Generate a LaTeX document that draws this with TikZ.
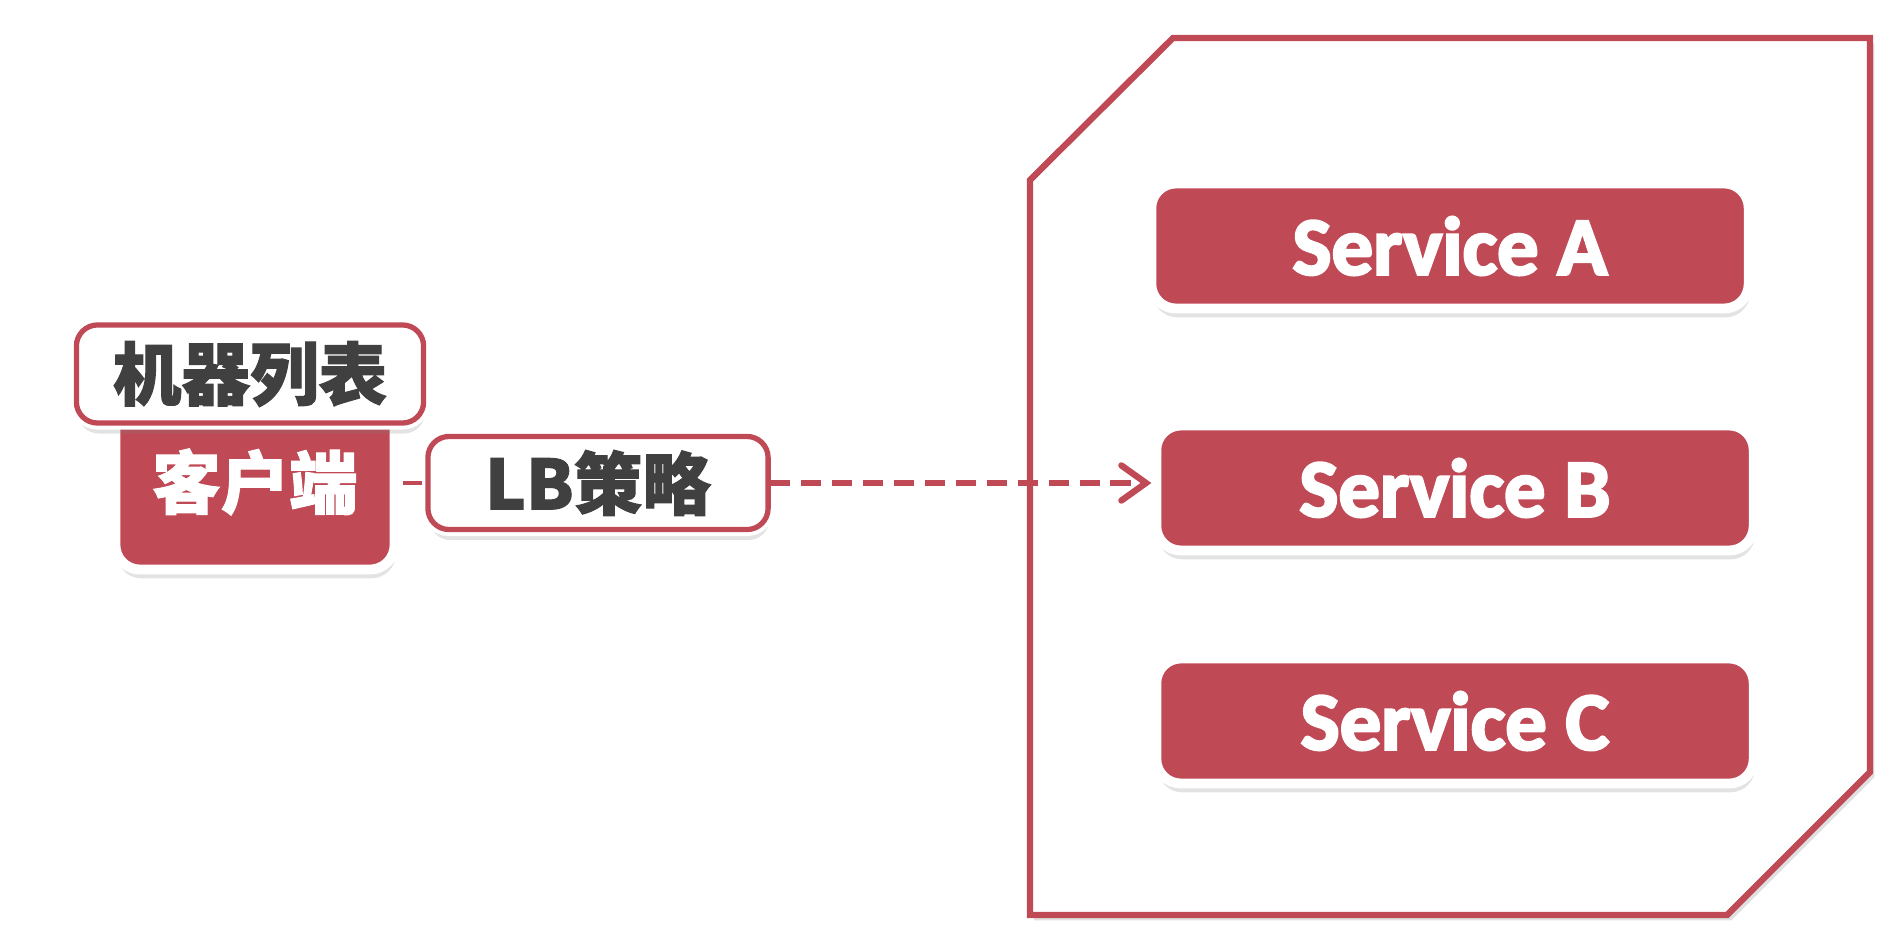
\documentclass[tikz,border=0pt]{standalone}
\usepackage{fontspec}
\setmainfont{Carlito}[BoldFeatures={FakeBold=3}]
\newfontfamily\cjk{Noto Sans CJK SC}[BoldFeatures={FakeBold=1.5}]
\usetikzlibrary{arrows.meta,shadows}
\definecolor{lbred}{RGB}{192,73,86}
\definecolor{lbgray}{RGB}{64,64,64}

\begin{document}
\begin{tikzpicture}[x=0.01cm,y=-0.01cm,
    redbox/.style={fill=lbred,draw=white,line width=2.8pt,rounded corners=7pt,
      drop shadow={shadow xshift=0.4pt,shadow yshift=-2.5pt,opacity=0.22},text=white},
    whitebox/.style={fill=white,draw=white,double=lbred,double distance=1.5pt,
      line width=1.1pt,rounded corners=6pt,text=lbgray,
      drop shadow={shadow xshift=0.4pt,shadow yshift=-3pt,opacity=0.22},
      font=\cjk\bfseries\fontsize{19.5}{23}\selectfont},
    svc/.style={redbox,minimum width=5.97cm,minimum height=1.25cm,
      font=\bfseries\fontsize{23.5}{27}\selectfont}]
    % Cliente com LB local escolhendo um servico da lista
    \useasboundingbox (0,0) rectangle (1892,928);
    \draw[lbred,line width=1.8pt,fill=white,
          drop shadow={shadow xshift=1.2pt,shadow yshift=-1.5pt,opacity=0.25}]
      (1030,180) -- (1173,38) -- (1870,38) -- (1870,772) -- (1727,915) -- (1030,915) -- cycle;
    \node[svc] (sA) at (1450,246) {Service A};
    \node[svc] (sB) at (1455,488) {Service B};
    \node[svc] (sC) at (1455,721) {Service C};
    \node[redbox,minimum width=2.79cm,minimum height=1.75cm,
          font=\cjk\bfseries\fontsize{19.5}{23}\selectfont] (client) at (255,482) {客户端};
    \node[whitebox,minimum width=3.47cm,minimum height=0.98cm] (mlist) at (250,374) {机器列表};
    \node[whitebox,minimum width=3.40cm,minimum height=0.93cm] (lb) at (598,483) {LB策略};
    \draw[lbred,line width=1.3pt,shorten <=1pt,shorten >=1pt] (client.east |- lb.west) -- (lb.west);
    \draw[lbred,line width=1.8pt,dash pattern=on 5.7pt off 3.1pt,
          -{Straight Barb[length=7pt,width=10pt,line cap=round]}] (lb.east) -- (lb.east -| sB.west);
\end{tikzpicture}
\end{document}
